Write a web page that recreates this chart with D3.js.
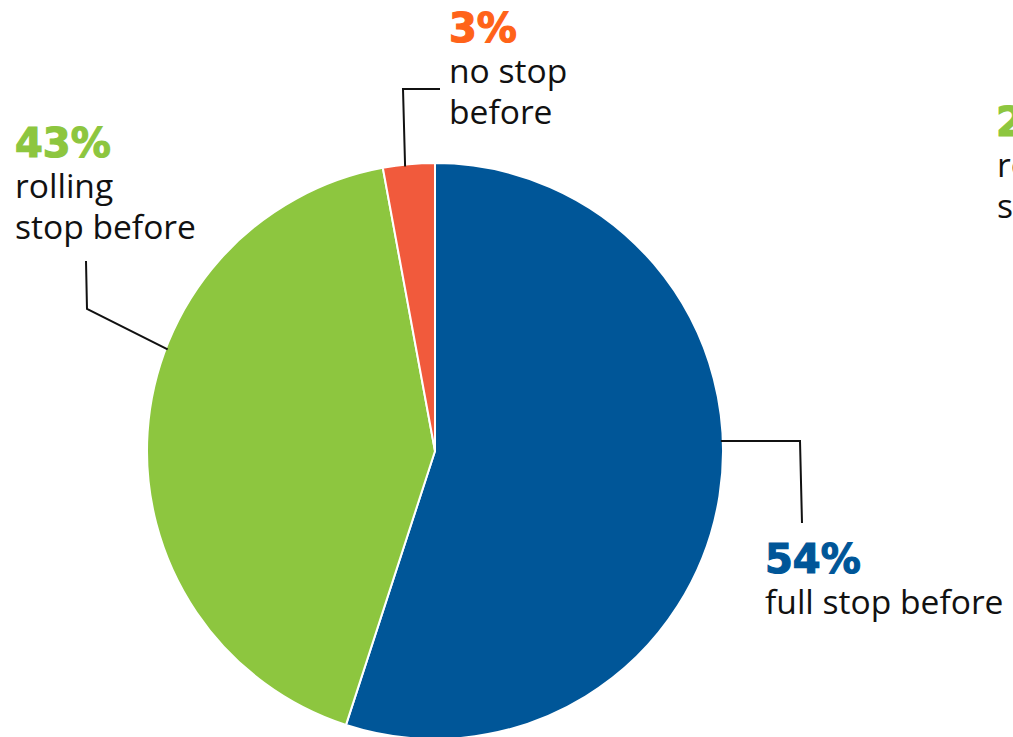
<!DOCTYPE html>
<html><head><meta charset="utf-8">
<script src="https://cdn.jsdelivr.net/npm/d3@7"></script>
<style>html,body{margin:0;padding:0;background:#fff;overflow:hidden}</style>
</head><body>
<svg id="c" width="1013" height="737"></svg>
<script>
const categories = ["full stop before", "rolling stop before", "no stop before"];
const values = [55.0, 42.1, 2.9];
const pctLabels = ["54%", "43%", "3%"];
const labelLines = [["full stop before"], ["rolling", "stop before"], ["no stop", "before"]];
const sliceColors = ["#005698", "#8dc63f", "#f15a3c"];
const pctColors = ["#005698", "#8dc63f", "#ff6319"];

const svg = d3.select("#c");
const cx = 435, cy = 451, R = 288;
const g = svg.append("g").attr("transform", `translate(${cx},${cy})`);
const pie = d3.pie().sort(null).value(d => d)(values);
const arc = d3.arc().innerRadius(0).outerRadius(R);
g.selectAll("path").data(pie).enter().append("path")
  .attr("d", arc).attr("fill", (d, i) => sliceColors[i])
  .attr("stroke", "#fff").attr("stroke-width", 2).attr("stroke-linejoin", "round");

// leader lines (angle on the rim in degrees from 12 o'clock, then elbows)
const leaders = [
  {a: 88.0, pts: [[800, 441], [802, 523]]},
  {a: 290.8, pts: [[87, 309], [86, 261]]},
  {a: 354.0, pts: [[403, 89], [440, 89]]}
];
leaders.forEach(l => {
  const t = l.a * Math.PI / 180;
  const p0 = [cx + (R - 2) * Math.sin(t), cy - (R - 2) * Math.cos(t)];
  svg.append("path").attr("d", d3.line()([p0, ...l.pts]))
    .attr("fill", "none").attr("stroke", "#111").attr("stroke-width", 2);
});

const labelPos = [[765, 573], [15, 157], [449, 42]];
labelPos.forEach((p, i) => {
  svg.append("text").attr("x", p[0]).attr("y", p[1])
    .attr("font-family", "DejaVu Sans").attr("font-weight", "bold")
    .attr("font-size", 40).attr("fill", pctColors[i])
    .attr("stroke", pctColors[i]).attr("stroke-width", 1.2).text(pctLabels[i]);
  labelLines[i].forEach((s, j) => {
    svg.append("text").attr("x", p[0]).attr("y", p[1] + 41 + j * 41)
      .attr("font-family", "Open Sans").attr("font-size", 33.6)
      .attr("fill", "#111").text(s);
  });
});

// partially visible neighbouring label at the right edge (cut off in the reference too)
svg.append("text").attr("x", 996).attr("y", 136)
  .attr("font-family", "DejaVu Sans").attr("font-weight", "bold")
  .attr("font-size", 40).attr("fill", "#8dc63f")
  .attr("stroke", "#8dc63f").attr("stroke-width", 1.2).text("2%");
["rolling", "stop before"].forEach((s, j) => {
  svg.append("text").attr("x", 997).attr("y", 177 + j * 41)
    .attr("font-family", "Open Sans").attr("font-size", 33.6)
    .attr("fill", "#111").text(s);
});
</script>
</body></html>
